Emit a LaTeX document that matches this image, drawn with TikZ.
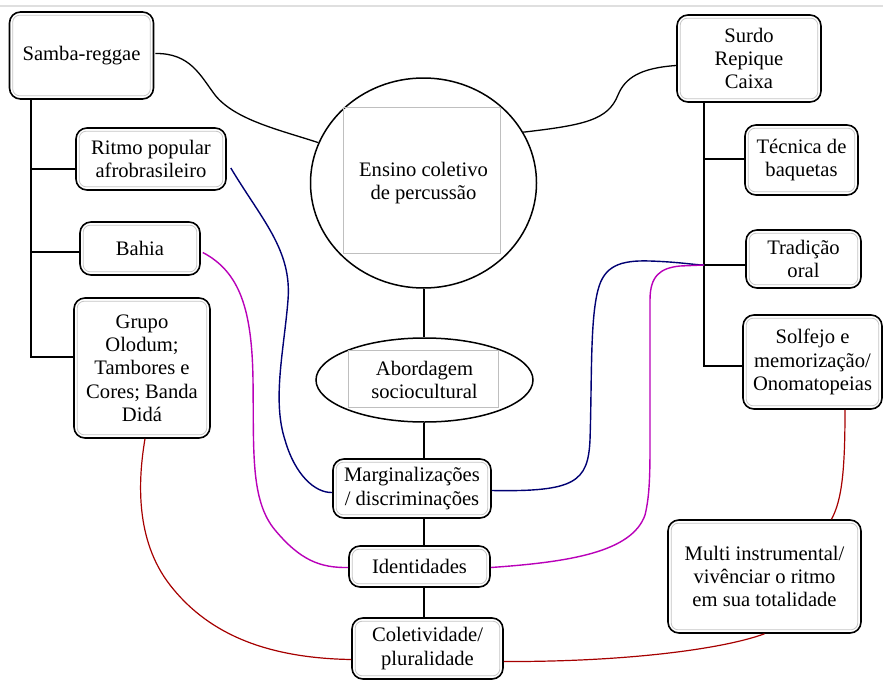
\documentclass[tikz,border=0pt]{standalone}
\usepackage{fontspec}
\setmainfont{Liberation Serif}
\usetikzlibrary{shapes.geometric,calc}
\begin{document}
\begin{tikzpicture}[x=1pt,y=-1pt,
  txt/.style={font=\fontsize{20.6}{23.3}\selectfont, align=center, inner sep=0pt},
  rbox/.style={txt, draw=black, line width=1.6pt, rounded corners=11pt, fill=white},
  innerline/.style={draw=gray!45, line width=0.8pt, rounded corners=7pt},
  tree/.style={draw=black, line width=1.3pt},
  blueline/.style={draw=blue!45!black, line width=1.4pt},
  magline/.style={draw=violet!55!magenta, line width=1.4pt},
  redline/.style={draw=red!65!black, line width=1.2pt}]
\useasboundingbox (0,0) rectangle (883,680);
\fill[white] (0,0) rectangle (883,680);
\draw[gray!25, line width=2pt] (0,6) -- (883,6);

% left column
\node[rbox, minimum width=144pt, minimum height=87pt] (samba) at (81.5,55.5) {Samba-reggae};
\node[rbox, minimum width=150pt, minimum height=62pt] (ritmo) at (151,159) {Ritmo popular\\afrobrasileiro};
\node[rbox, minimum width=120pt, minimum height=53pt] (bahia) at (140,248.5) {Bahia};
\node[rbox, minimum width=136pt, minimum height=140pt] (grupo) at (142,368) {Grupo\\Olodum;\\Tambores e\\Cores; Banda\\Didá};

% center
\node[txt, draw=black, line width=1.5pt, ellipse, minimum width=226pt, minimum height=210pt] (ensino) at (423.5,183) {Ensino coletivo\\de percussão};
\draw[gray!50, line width=0.8pt] (343,107) rectangle (500,253);
\node[txt, draw=black, line width=1.5pt, ellipse, minimum width=217pt, minimum height=84pt] (abord) at (424.5,380) {Abordagem\\sociocultural};
\draw[gray!50, line width=0.8pt] (348,350) rectangle (498,407);
\node[rbox, minimum width=158pt, minimum height=59pt] (marg) at (412,488.5) {Marginalizações\\/ discriminações};
\node[rbox, minimum width=141pt, minimum height=41pt] (ident) at (419.5,566.5) {Identidades};
\node[rbox, minimum width=151pt, minimum height=61pt] (colet) at (427.5,648.5) {Coletividade/\\pluralidade};

% right column
\node[rbox, minimum width=144pt, minimum height=87pt] (surdo) at (749,58.5) {Surdo\\Repique\\Caixa};
\node[rbox, minimum width=113pt, minimum height=70pt] (tecnica) at (801.5,160) {Técnica de\\baquetas};
\node[rbox, minimum width=115pt, minimum height=58pt] (tradicao) at (803.5,259) {Tradição\\oral};
\node[rbox, minimum width=139pt, minimum height=94pt] (solfejo) at (812.5,362) {Solfejo e\\memorização/\\Onomatopeias};
\node[rbox, minimum width=193pt, minimum height=113pt] (multi) at (764.5,576.5) {Multi instrumental/\\vivênciar o ritmo\\em sua totalidade};

\foreach \n in {samba,ritmo,bahia,grupo,marg,ident,colet,surdo,tecnica,tradicao,solfejo,multi}
  \draw[innerline] ([shift={(4pt,4pt)}]\n.south west) rectangle ([shift={(-4pt,-4pt)}]\n.north east);

% junctions
\coordinate (lb1) at (31,169);
\coordinate (lb2) at (31,252);
\coordinate (lb3) at (31,357);
\coordinate (rb1) at (704,159);
\coordinate (rb2) at (704,265);
\coordinate (rb3) at (704,366);
\coordinate (cx) at (424,0);

% left tree
\draw[tree] (samba.south -| lb3) -- (lb3) -- (lb3 -| grupo.west);
\draw[tree] (lb1) -- (lb1 -| ritmo.west);
\draw[tree] (lb2) -- (lb2 -| bahia.west);
% right tree
\draw[tree] (surdo.south -| rb3) -- (rb3) -- (rb3 -| solfejo.west);
\draw[tree] (rb1) -- (rb1 -| tecnica.west);
\draw[tree] (rb2) -- (rb2 -| tradicao.west);

% center chain
\draw[tree] (ensino.south -| cx) -- (abord.north -| cx);
\draw[tree] (abord.south -| cx) -- (marg.north -| cx);
\draw[tree] (marg.south -| cx) -- (ident.north -| cx);
\draw[tree] (ident.south -| cx) -- (colet.north -| cx);

% curves to circle
\draw[tree] ([xshift=1pt,yshift=2pt]samba.east) .. controls (190,53) and (200,75) .. (215,95)
  .. controls (235,120) and (280,130) .. (ensino.159);
\draw[tree] ([yshift=-7pt]surdo.west) .. controls (640,68) and (625,78) .. (618,95)
  .. controls (608,120) and (585,125) .. (ensino.27);

% blue
\draw[blueline] ([xshift=4pt,yshift=-9pt]ritmo.east) .. controls (262,220) and (292,250) .. (288,300)
  .. controls (284,350) and (272,400) .. (285,440) .. controls (295,475) and (315,493) .. ([yshift=-4pt]marg.west);
\draw[blueline] ([yshift=-2pt]marg.east) .. controls (575,492) and (588,482) .. (590,440)
  .. controls (592,380) and (590,320) .. (598,290) .. controls (604,266) and (620,260) .. (650,261)
  .. controls (680,262) and (695,265) .. (rb2);

% magenta
\draw[magline] ([xshift=2pt,yshift=-4pt]bahia.east) .. controls (240,272) and (252,310) .. (253,380)
  .. controls (254,450) and (250,500) .. (275,530) .. controls (300,560) and (320,568) .. ([yshift=-1pt]ident.west);
\draw[magline] ([yshift=-1pt]ident.east) .. controls (570,562) and (632,552) .. (645,515)
  .. controls (650,495) and (650,470) .. (650,440) -- (650,300)
  .. controls (650,276) and (660,268) .. (680,266) -- (rb2);

% red
\draw[redline] ([xshift=3pt]grupo.south) .. controls (138,480) and (135,540) .. (170,585)
  .. controls (205,630) and (260,658) .. ([yshift=-11pt]colet.west);
\draw[redline] ([xshift=32.5pt]solfejo.south) .. controls (845,470) and (842,500) .. ([xshift=67pt]multi.north);
\draw[redline] (multi.south) .. controls (720,650) and (620,662) .. ([yshift=-13pt]colet.east);
\end{tikzpicture}
\end{document}
